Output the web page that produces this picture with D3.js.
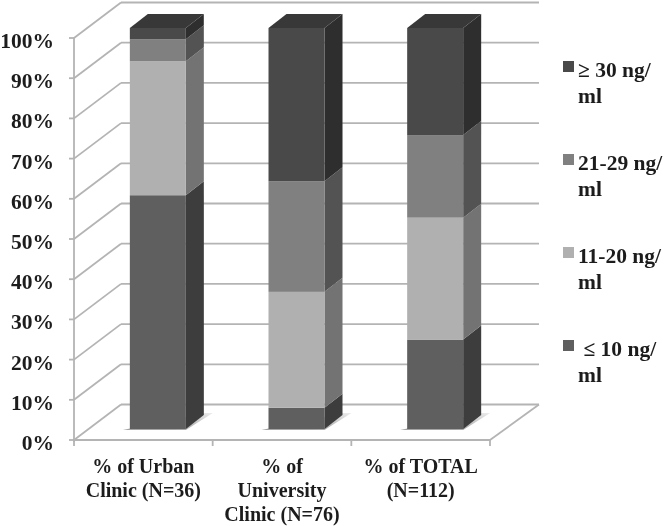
<!DOCTYPE html>
<html>
<head>
<meta charset="utf-8">
<script src="https://d3js.org/d3.v7.min.js"></script>
<style>
  html, body { margin: 0; background: #fff; }
  text { font-family: "Liberation Serif", serif; font-weight: 700; fill: #1c1c1c; }
</style>
</head>
<body>
<div id="chart"></div>
<script>
// Datos
const categories = ['% of Urban Clinic (N=36)', '% of University Clinic (N=76)', '% of TOTAL (N=112)'];
const categoryLines = [['% of Urban', 'Clinic (N=36)'], ['% of', 'University', 'Clinic (N=76)'], ['% of TOTAL', '(N=112)']];
const seriesNames = ['lte10', 'r11to20', 'r21to29', 'gte30'];
const lte10 = [58.3, 5.3, 22.3];
const r11to20 = [33.4, 28.9, 30.4];
const r21to29 = [5.5, 27.6, 20.6];
const gte30 = [2.8, 38.2, 26.7];
const yTicks = [0, 10, 20, 30, 40, 50, 60, 70, 80, 90, 100];
const legendLabels = ['\u2265 30 ng/', '21-29 ng/', '11-20 ng/', ' \u2264 10 ng/'];
const legendKeys = ['gte30', 'r21to29', 'r11to20', 'lte10'];
const frontColors = { lte10: '#5e5e5e', r11to20: '#b0b0b0', r21to29: '#808080', gte30: '#4a4a4a' };
const sideColors = { lte10: '#3c3c3c', r11to20: '#737373', r21to29: '#525252', gte30: '#2f2f2f' };

const width = 666, height = 526;
const svg = d3.select('#chart').append('svg')
  .attr('width', width).attr('height', height)
  .style('display', 'block');

const defs = svg.append('defs');
defs.append('filter').attr('id', 'soft')
  .attr('x', '-2%').attr('y', '-2%').attr('width', '104%').attr('height', '104%')
  .append('feGaussianBlur').attr('stdDeviation', 0.5);
const shadowGrad = defs.append('linearGradient').attr('id', 'shadow')
  .attr('x1', 0).attr('y1', 1).attr('x2', 1).attr('y2', 0);
shadowGrad.append('stop').attr('offset', '0.3').attr('stop-color', '#a4a4a4');
shadowGrad.append('stop').attr('offset', '1').attr('stop-color', '#ececec');

const root = svg.append('g').attr('filter', 'url(#soft)');

// Escalas: pared frontal, profundidad de la pared y de las barras
const x = d3.scaleBand().domain(categories).range([74, 490]);
const y = d3.scaleLinear().domain([0, 100]).range([440, 38]);
const wallDx = 47, wallDy = -35.5;
const barY = d3.scaleLinear().domain([0, 100]).range([429, 28]);
const barW = 56, barOffset = 14.5, barDx = 18, barDy = -14;
const gridColor = '#b4b4b4';

// Lineas de fondo y pared izquierda
const grid = root.append('g').attr('stroke', gridColor).attr('stroke-width', 1.8).attr('fill', 'none');
yTicks.forEach(t => {
  grid.append('line')
    .attr('x1', 74 + wallDx).attr('x2', 539)
    .attr('y1', y(t) + wallDy).attr('y2', y(t) + wallDy);
  grid.append('line')
    .attr('x1', 74).attr('x2', 74 + wallDx)
    .attr('y1', y(t)).attr('y2', y(t) + wallDy);
  grid.append('line')
    .attr('x1', 69).attr('x2', 74)
    .attr('y1', y(t)).attr('y2', y(t));
});
grid.append('line').attr('x1', 74).attr('x2', 74).attr('y1', y(0) + 2).attr('y2', y(100));
grid.append('line').attr('x1', 74).attr('x2', 490).attr('y1', y(0)).attr('y2', y(0));
grid.append('line').attr('x1', 490).attr('x2', 539).attr('y1', y(0)).attr('y2', y(0) + wallDy);
[74, 74 + x.step(), 74 + x.step() * 2, 490].forEach(px => {
  grid.append('line').attr('x1', px).attr('x2', px).attr('y1', y(0)).attr('y2', y(0) + 6);
});

// Barras apiladas
const rows = categories.map((c, i) => ({
  category: c, lte10: lte10[i], r11to20: r11to20[i], r21to29: r21to29[i], gte30: gte30[i]
}));
const stacked = d3.stack().keys(seriesNames)(rows);
const poly = pts => pts.map(p => p.join(',')).join(' ');

categories.forEach((c, i) => {
  const x0 = x(c) + x.bandwidth() / 2 + barOffset - barW / 2;
  const x1 = x0 + barW;
  const bar = root.append('g');

  // Sombra sobre el suelo
  bar.append('polygon')
    .attr('points', poly([[x0 - 7, barY(0) + 1], [x1, barY(0) + 1], [x1 + barDx + 9, barY(0) + barDy - 2], [x1 + barDx, barY(0) + barDy - 2]]))
    .attr('fill', 'url(#shadow)');

  stacked.forEach(layer => {
    const d = layer[i];
    const key = layer.key;
    bar.append('polygon')
      .attr('points', poly([[x1, barY(d[0])], [x1 + barDx, barY(d[0]) + barDy], [x1 + barDx, barY(d[1]) + barDy], [x1, barY(d[1])]]))
      .attr('fill', sideColors[key]);
    bar.append('rect')
      .attr('x', x0).attr('width', barW)
      .attr('y', barY(d[1])).attr('height', barY(d[0]) - barY(d[1]))
      .attr('fill', frontColors[key]);
  });

  // Tapa superior
  const topY = barY(100);
  bar.append('polygon')
    .attr('points', poly([[x0, topY], [x1, topY], [x1 + barDx, topY + barDy], [x0 + barDx, topY + barDy]]))
    .attr('fill', '#383838');
});

// Etiquetas del eje Y
root.append('g').selectAll('text').data(yTicks).join('text')
  .attr('x', 54).attr('y', d => y(d) + 10)
  .attr('text-anchor', 'end')
  .attr('font-size', 21.5)
  .text(d => d + '%');

// Etiquetas de categorias
categories.forEach((c, i) => {
  const cx = x(c) + x.bandwidth() / 2;
  categoryLines[i].forEach((line, j) => {
    root.append('text')
      .attr('x', cx).attr('y', 473 + j * 24)
      .attr('text-anchor', 'middle')
      .attr('font-size', 20)
      .text(line);
  });
});

// Leyenda
const legendY = d3.scalePoint().domain(legendKeys).range([77, 356]);
legendKeys.forEach((k, i) => {
  const base = legendY(k);
  root.append('rect')
    .attr('x', 563).attr('y', base - 16).attr('width', 11).attr('height', 11)
    .attr('fill', frontColors[k]);
  root.append('text')
    .attr('x', 578).attr('y', base)
    .attr('font-size', 21.5)
    .style('white-space', 'pre')
    .text(legendLabels[i]);
  root.append('text')
    .attr('x', 578).attr('y', base + 26)
    .attr('font-size', 21.5)
    .text('ml');
});
</script>
</body>
</html>
